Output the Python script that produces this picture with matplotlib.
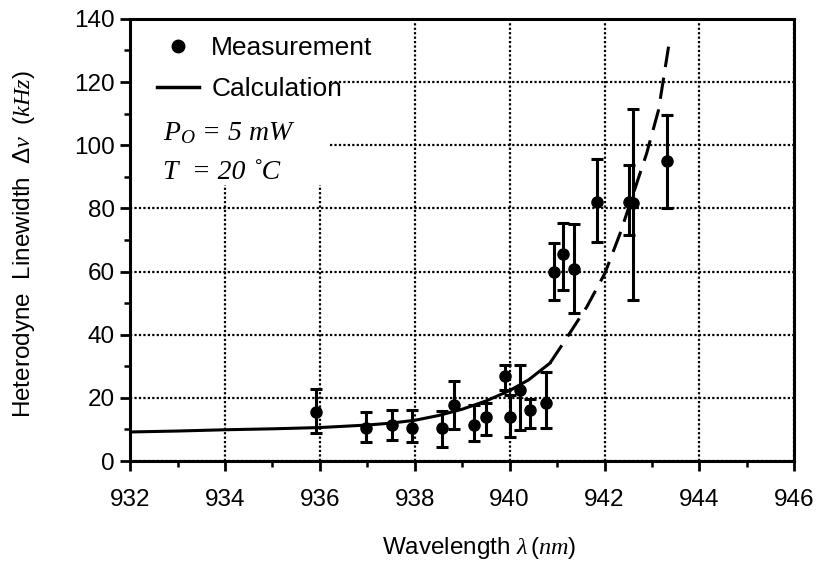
import matplotlib
matplotlib.use("Agg")
import matplotlib.pyplot as plt
from matplotlib.lines import Line2D
from matplotlib.patches import Rectangle
from matplotlib.ticker import MultipleLocator

plt.rcParams['font.family'] = ['Liberation Sans', 'DejaVu Sans']
plt.rcParams['mathtext.fontset'] = 'custom'
plt.rcParams['mathtext.rm'] = 'Liberation Sans'
plt.rcParams['mathtext.it'] = 'Liberation Serif:italic'
plt.rcParams['mathtext.sf'] = 'Liberation Sans'

# measured linewidth (kHz) with error bar ends
wavelength = [935.92, 936.97, 937.52, 937.94, 938.57, 938.83, 939.24, 939.51,
              939.91, 940.00, 940.22, 940.43, 940.77, 940.93, 941.12, 941.36,
              941.84, 942.52, 942.61, 943.32]
linewidth = [15.6, 10.5, 11.4, 10.6, 10.6, 17.7, 11.4, 14.0,
             27.0, 14.0, 22.5, 16.1, 18.4, 60.0, 65.5, 60.8,
             82.1, 82.1, 81.6, 95.0]
err_top = [22.7, 15.6, 16.1, 16.1, 15.9, 25.3, 17.7, 18.5,
           30.5, 21.0, 30.5, 19.5, 28.3, 69.0, 75.3, 75.1,
           95.6, 93.8, 111.4, 109.5]
err_bot = [9.0, 6.1, 6.6, 6.1, 4.3, 10.1, 6.4, 8.2,
           22.5, 7.7, 9.8, 10.5, 10.5, 51.0, 54.3, 46.8,
           69.2, 71.6, 51.0, 80.2]

# calculated curve: solid part, then dashed extrapolation
calc_wl = [932.0, 933.0, 934.0, 935.0, 936.0, 937.0, 937.5, 938.0, 938.5,
           939.0, 939.5, 940.0, 940.4, 940.85]
calc_lw = [9.2, 9.5, 9.9, 10.2, 10.6, 11.4, 12.0, 12.9, 14.4,
           16.4, 19.0, 22.3, 25.7, 31.0]
dash_wl = [940.85, 941.13, 941.63, 942.01, 942.33, 942.61, 942.89, 943.14, 943.35]
dash_lw = [31.0, 37.3, 48.9, 59.5, 72.1, 84.8, 97.5, 111.2, 131.2]

fig = plt.figure(figsize=(8.18, 5.72), dpi=100)
ax = fig.add_axes([0.159, 0.194, 0.812, 0.773])

yerr = [[v - b for v, b in zip(linewidth, err_bot)],
        [t - v for v, t in zip(linewidth, err_top)]]
ax.errorbar(wavelength, linewidth, yerr=yerr, fmt='o', color='black',
            markersize=8, elinewidth=2.2, capsize=4, capthick=2.2, zorder=4)
ax.plot(calc_wl, calc_lw, color='black', lw=2.2, zorder=3)
ax.plot(dash_wl, dash_lw, color='black', lw=2.2, dashes=(7, 3.5), zorder=3)

ax.set_xlim(932, 946)
ax.set_ylim(0, 140)
ax.xaxis.set_major_locator(MultipleLocator(2))
ax.xaxis.set_minor_locator(MultipleLocator(1))
ax.yaxis.set_major_locator(MultipleLocator(20))
ax.yaxis.set_minor_locator(MultipleLocator(10))
ax.tick_params(which='major', direction='out', length=7, width=2,
               labelsize=17.5, color='black')
ax.tick_params(axis='x', which='major', pad=13)
ax.tick_params(axis='y', which='major', pad=4)
ax.tick_params(which='minor', direction='out', length=4, width=1.8)
for s in ax.spines.values():
    s.set_linewidth(2.2)

ax.set_axisbelow(True)
ax.grid(which='major', color='black', linestyle=(0, (1, 1)), linewidth=1.6)

# white patch behind the legend and notes hides the grid there
ax.add_patch(Rectangle((932, 87.5), 4.2, 52.5, facecolor='white',
                       edgecolor='none', zorder=1))

handles = [Line2D([], [], marker='o', color='black', linestyle='none', markersize=9),
           Line2D([], [], color='black', lw=2.5)]
ax.legend(handles, ['Measurement', 'Calculation'], loc='upper left',
          bbox_to_anchor=(0.025, 0.985), frameon=False, fontsize=19,
          handlelength=1.6, handletextpad=0.45, labelspacing=0.65,
          borderaxespad=0)

ax.text(0.05, 0.725, r'$\mathit{P_O}$ = 5 mW', transform=ax.transAxes,
        fontsize=20, family='Liberation Serif', style='italic')
ax.text(0.05, 0.637, 'T  = 20 ˚C', transform=ax.transAxes,
        fontsize=20, family='Liberation Serif', style='italic')

ax.set_xlabel(r'Wavelength $\lambda\,(\mathit{nm})$', fontsize=17.5)
ax.xaxis.set_label_coords(0.525, -0.168)
ax.set_ylabel(r'Heterodyne  Linewidth  $\Delta\nu\ \ (\mathit{kHz})$',
              fontsize=17.5)
ax.yaxis.set_label_coords(-0.14, 0.49)

fig.savefig('out.png', dpi=100)
